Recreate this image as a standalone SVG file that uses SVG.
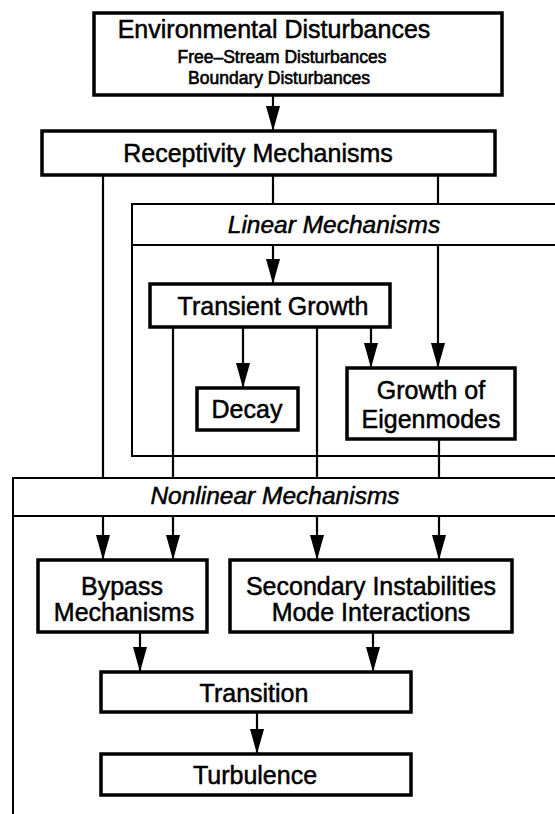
<svg xmlns="http://www.w3.org/2000/svg" width="555" height="814" viewBox="0 0 555 814">
<style>
.box{fill:#fff;stroke:#000;stroke-width:3.5}
.frame{fill:none;stroke:#000;stroke-width:2}
.ln{fill:none;stroke:#000;stroke-width:2.2}
text{font-family:"Liberation Sans",Arial,sans-serif;fill:#000;stroke:#000;stroke-width:0.5;text-anchor:middle}
.t{font-size:25px}
.s{font-size:17.5px;stroke-width:0.6}
.i{font-size:24.5px;font-style:italic}
</style>
<defs>
<marker id="ah" markerUnits="userSpaceOnUse" markerWidth="26" markerHeight="16" viewBox="0 0 26 16" refX="25" refY="8" orient="auto">
<path d="M0,1 L25,8 L0,15 z" fill="#000"/>
</marker>
</defs>
<rect width="555" height="814" fill="#fff"/>
<g id="linear-frame">
<path class="frame" d="M556,204 H132 V456 H556 M132,245 H556"/>
<text class="i" x="334" y="233">Linear Mechanisms</text>
</g>
<g id="nonlinear-frame">
<path class="frame" d="M556,478 H13 V815 M13,516 H556"/>
<text class="i" x="275" y="504">Nonlinear Mechanisms</text>
</g>
<g id="connectors">
<line class="ln" x1="273" y1="95" x2="273" y2="131" marker-end="url(#ah)"/>
<line class="ln" x1="103" y1="175" x2="103" y2="478"/>
<line class="ln" x1="103" y1="516" x2="103" y2="560" marker-end="url(#ah)"/>
<line class="ln" x1="273" y1="175" x2="273" y2="204"/>
<line class="ln" x1="273" y1="245" x2="273" y2="284" marker-end="url(#ah)"/>
<line class="ln" x1="438" y1="175" x2="438" y2="204"/>
<line class="ln" x1="438" y1="245" x2="438" y2="368" marker-end="url(#ah)"/>
<line class="ln" x1="173" y1="327" x2="173" y2="478"/>
<line class="ln" x1="173" y1="516" x2="173" y2="560" marker-end="url(#ah)"/>
<line class="ln" x1="243" y1="327" x2="243" y2="388" marker-end="url(#ah)"/>
<line class="ln" x1="317" y1="327" x2="317" y2="478"/>
<line class="ln" x1="317" y1="516" x2="317" y2="560" marker-end="url(#ah)"/>
<line class="ln" x1="371" y1="327" x2="371" y2="368" marker-end="url(#ah)"/>
<line class="ln" x1="439" y1="439" x2="439" y2="478"/>
<line class="ln" x1="439" y1="516" x2="439" y2="560" marker-end="url(#ah)"/>
<line class="ln" x1="140" y1="632" x2="140" y2="672" marker-end="url(#ah)"/>
<line class="ln" x1="373" y1="632" x2="373" y2="672" marker-end="url(#ah)"/>
<line class="ln" x1="257" y1="712" x2="257" y2="754" marker-end="url(#ah)"/>
</g>
<g id="env">
<rect class="box" x="94" y="13" width="408" height="82"/>
<text class="t" x="274" y="38">Environmental Disturbances</text>
<text class="s" x="282" y="63">Free–Stream Disturbances</text>
<text class="s" x="279" y="84">Boundary Disturbances</text>
</g>
<g id="receptivity">
<rect class="box" x="42" y="131" width="453" height="44"/>
<text class="t" x="258" y="162">Receptivity Mechanisms</text>
</g>
<g id="transient">
<rect class="box" x="150" y="284" width="240" height="43"/>
<text class="t" x="273" y="315">Transient Growth</text>
</g>
<g id="decay">
<rect class="box" x="197" y="388" width="101" height="42"/>
<text class="t" x="247" y="418">Decay</text>
</g>
<g id="eigen">
<rect class="box" x="347" y="368" width="168" height="71"/>
<text class="t" x="431" y="399">Growth of</text>
<text class="t" x="431" y="428">Eigenmodes</text>
</g>
<g id="bypass">
<rect class="box" x="38" y="560" width="169" height="72"/>
<text class="t" x="122" y="595">Bypass</text>
<text class="t" x="124" y="621">Mechanisms</text>
</g>
<g id="secondary">
<rect class="box" x="230" y="560" width="282" height="72"/>
<text class="t" x="371" y="595">Secondary Instabilities</text>
<text class="t" x="371" y="621">Mode Interactions</text>
</g>
<g id="transition">
<rect class="box" x="101" y="672" width="310" height="40"/>
<text class="t" x="254" y="702">Transition</text>
</g>
<g id="turbulence">
<rect class="box" x="101" y="754" width="310" height="41"/>
<text class="t" x="255" y="784">Turbulence</text>
</g>
</svg>
